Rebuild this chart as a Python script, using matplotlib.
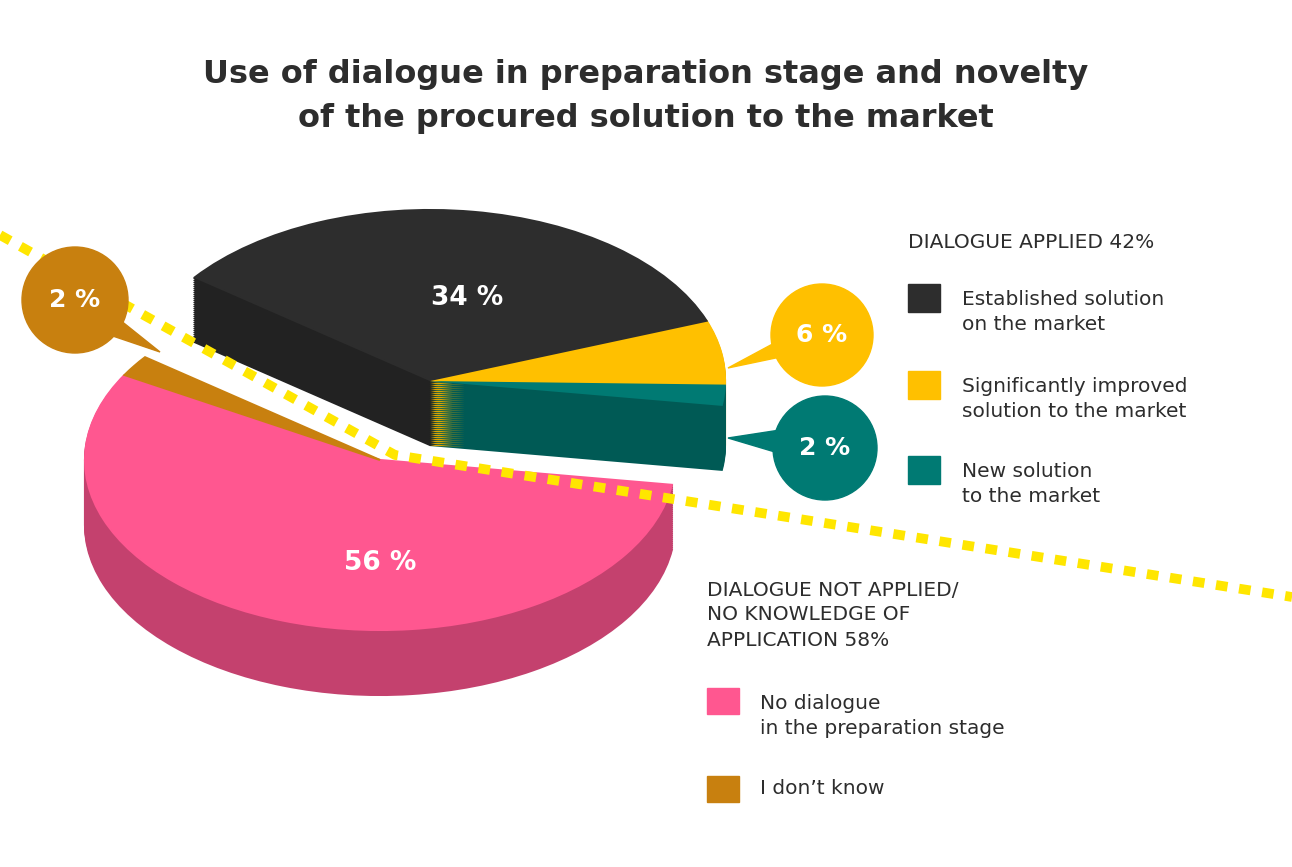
import matplotlib
matplotlib.use("Agg")
import matplotlib.pyplot as plt
from matplotlib.patches import Ellipse, Polygon, Rectangle

labels = ["No dialogue in the preparation stage", "New solution to the market",
          "Significantly improved solution to the market",
          "Established solution on the market", "I don't know"]
values = [56, 2, 6, 34, 2]
pct_text = ["56 %", "2 %", "6 %", "34 %", "2 %"]
top_colors = ["#FF5790", "#007A73", "#FFC000", "#2D2D2D", "#C8800F"]
side_colors = ["#C4416E", "#005A55", "#D9A300", "#222222", "#9E6508"]
applied = [False, True, True, True, False]

W, H = 1292, 867
RX, RY = 295, 170
k = RX / RY
def Y(py):
    return (H - py) * k

fig = plt.figure(figsize=(12.92, 8.67), dpi=100)
ax = fig.add_axes([0, 0, 1, 1])

centers = {False: (380, 460), True: (430, 380)}
depth = 65

def draw_pie(cx, cy_px, colors, group, z):
    wedges, _ = ax.pie(values, colors=colors, startangle=150, counterclock=True,
                       radius=RX, center=(cx, Y(cy_px)), frame=True,
                       wedgeprops=dict(linewidth=1.5, zorder=z))
    for w, a, c in zip(wedges, applied, colors):
        w.set_edgecolor(c)
        w.set_visible(a == group)
        w.set_zorder(z)

z = 1
for group in (False, True):
    cx, cy = centers[group]
    for d in range(depth, 0, -2):
        draw_pie(cx, cy + d, side_colors, group, z)
    draw_pie(cx, cy, top_colors, group, z + 1)
    z += 2
ax.set_aspect("auto")
ax.set_position([0, 0, 1, 1])
ax.set_xlim(0, W); ax.set_ylim(0, H * k); ax.axis("off")

# dotted yellow line
ax.plot([0, 395, 1292], [Y(235), Y(455), Y(597)], color="#FFE600", lw=7,
        linestyle=(0, (1.2, 1.2)), solid_capstyle="butt", zorder=8, clip_on=False)

ax.text(380, Y(563), pct_text[0], color="white", fontsize=19, fontweight="bold",
        ha="center", va="center", zorder=9)
ax.text(467, Y(298), pct_text[3], color="white", fontsize=19, fontweight="bold",
        ha="center", va="center", zorder=9)

def bubble(x, y, r, color, text, tail):
    ax.add_patch(Polygon([(px, Y(py)) for px, py in tail], color=color, zorder=9))
    ax.add_patch(Ellipse((x, Y(y)), 2 * r, 2 * r * k, color=color, zorder=9))
    ax.text(x, Y(y), text, color="white", fontsize=18, fontweight="bold",
            ha="center", va="center", zorder=10)

bubble(75, 300, 53, top_colors[4], pct_text[4], [(95, 330), (120, 320), (160, 352)])
bubble(822, 335, 51, top_colors[2], pct_text[2], [(780, 340), (790, 355), (728, 368)])
bubble(825, 448, 52, top_colors[1], pct_text[1], [(780, 430), (785, 455), (728, 438)])

fig.text(0.5, 1 - 75 / H, "Use of dialogue in preparation stage and novelty",
         ha="center", va="center", fontsize=23, fontweight="bold", color="#2D2D2D")
fig.text(0.5, 1 - 118 / H, "of the procured solution to the market",
         ha="center", va="center", fontsize=23, fontweight="bold", color="#2D2D2D")

tc = "#2D2D2D"
def t(x, y, s):
    fig.text(x / W, 1 - y / H, s, fontsize=14.5, color=tc, va="center", ha="left",
             linespacing=1.4)

t(908, 242, "DIALOGUE APPLIED 42%")
leg = [(298, 3, "Established solution\non the market"),
       (385, 2, "Significantly improved\nsolution to the market"),
       (470, 1, "New solution\nto the market")]
for y, i, s in leg:
    ax.add_patch(Rectangle((908, Y(y + 14)), 32, 28 * k, color=top_colors[i], zorder=9))
    t(962, y + 14, s)

t(707, 615, "DIALOGUE NOT APPLIED/\nNO KNOWLEDGE OF\nAPPLICATION 58%")
for y, i, s in [(688, 0, "No dialogue\nin the preparation stage"), (776, 4, "I don’t know")]:
    ax.add_patch(Rectangle((707, Y(y + 26)), 32, 26 * k, color=top_colors[i], zorder=9))
    t(760, y + 13 if i == 4 else y + 28, s)

fig.savefig("out.png", dpi=100)
